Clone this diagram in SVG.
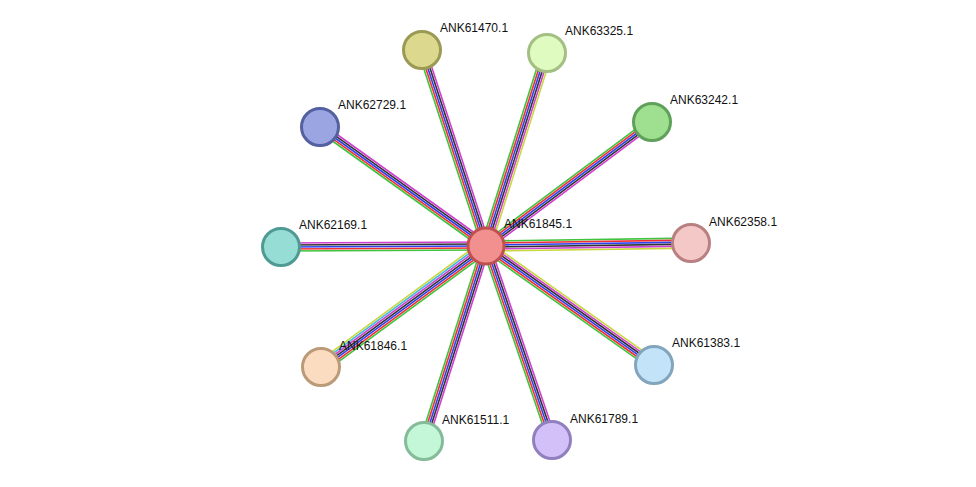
<svg xmlns="http://www.w3.org/2000/svg" width="976" height="487" viewBox="0 0 976 487">
<style>
text{font-family:"Liberation Sans",Arial,sans-serif;font-size:12px;fill:#111}
.n{stroke-width:3}
line{stroke-width:1.6}
.g{stroke:#3fc43f}.r{stroke:#f03030}.b{stroke:#3040f0}.k{stroke:#333}.m{stroke:#d040d0}.y{stroke:#c8d840}.c{stroke:#40b8e0}
</style>
<rect width="976" height="487" fill="#fff"/>
<g id="connectors">
<g transform="translate(486,246) rotate(-108.1)"><line class="g" x1="0" y1="-4" x2="206" y2="-4"/><line class="r" x1="0" y1="-2" x2="206" y2="-2"/><line class="b" x1="0" y1="0" x2="206" y2="0"/><line class="k" x1="0" y1="2" x2="206" y2="2"/><line class="m" x1="0" y1="4" x2="206" y2="4"/></g>
<g transform="translate(486,246) rotate(-72.5)"><line class="g" x1="0" y1="-5" x2="202" y2="-5"/><line class="r" x1="0" y1="-3" x2="202" y2="-3"/><line class="b" x1="0" y1="-1" x2="202" y2="-1"/><line class="k" x1="0" y1="1" x2="202" y2="1"/><line class="m" x1="0" y1="3" x2="202" y2="3"/><line class="y" x1="0" y1="5" x2="202" y2="5"/></g>
<g transform="translate(486,246) rotate(-36.8)"><line class="g" x1="0" y1="-4" x2="207" y2="-4"/><line class="r" x1="0" y1="-2" x2="207" y2="-2"/><line class="b" x1="0" y1="0" x2="207" y2="0"/><line class="k" x1="0" y1="2" x2="207" y2="2"/><line class="m" x1="0" y1="4" x2="207" y2="4"/></g>
<g transform="translate(486,246) rotate(-144.4)"><line class="g" x1="0" y1="-4" x2="204" y2="-4"/><line class="r" x1="0" y1="-2" x2="204" y2="-2"/><line class="b" x1="0" y1="0" x2="204" y2="0"/><line class="k" x1="0" y1="2" x2="204" y2="2"/><line class="m" x1="0" y1="4" x2="204" y2="4"/></g>
<g transform="translate(486,246) rotate(179.7)"><line class="g" x1="0" y1="-4" x2="205" y2="-4"/><line class="r" x1="0" y1="-2" x2="205" y2="-2"/><line class="b" x1="0" y1="0" x2="205" y2="0"/><line class="k" x1="0" y1="2" x2="205" y2="2"/><line class="m" x1="0" y1="4" x2="205" y2="4"/></g>
<g transform="translate(486,246) rotate(-0.8)"><line class="g" x1="0" y1="-5" x2="205" y2="-5"/><line class="r" x1="0" y1="-3" x2="205" y2="-3"/><line class="b" x1="0" y1="-1" x2="205" y2="-1"/><line class="k" x1="0" y1="1" x2="205" y2="1"/><line class="m" x1="0" y1="3" x2="205" y2="3"/><line class="y" x1="0" y1="5" x2="205" y2="5"/></g>
<g transform="translate(486,246) rotate(35.3)"><line class="g" x1="0" y1="5" x2="206" y2="5"/><line class="r" x1="0" y1="3" x2="206" y2="3"/><line class="b" x1="0" y1="1" x2="206" y2="1"/><line class="k" x1="0" y1="-1" x2="206" y2="-1"/><line class="m" x1="0" y1="-3" x2="206" y2="-3"/><line class="y" x1="0" y1="-5" x2="206" y2="-5"/></g>
<g transform="translate(486,246) rotate(143.7)"><line class="g" x1="0" y1="-6" x2="205" y2="-6"/><line class="r" x1="0" y1="-4" x2="205" y2="-4"/><line class="b" x1="0" y1="-2" x2="205" y2="-2"/><line class="k" x1="0" y1="0" x2="205" y2="0"/><line class="m" x1="0" y1="2" x2="205" y2="2"/><line class="c" x1="0" y1="4" x2="205" y2="4"/><line class="y" x1="0" y1="6" x2="205" y2="6"/></g>
<g transform="translate(486,246) rotate(107.6)"><line class="g" x1="0" y1="4" x2="205" y2="4"/><line class="r" x1="0" y1="2" x2="205" y2="2"/><line class="b" x1="0" y1="0" x2="205" y2="0"/><line class="k" x1="0" y1="-2" x2="205" y2="-2"/><line class="m" x1="0" y1="-4" x2="205" y2="-4"/></g>
<g transform="translate(486,246) rotate(71.2)"><line class="g" x1="0" y1="4" x2="205" y2="4"/><line class="r" x1="0" y1="2" x2="205" y2="2"/><line class="b" x1="0" y1="0" x2="205" y2="0"/><line class="k" x1="0" y1="-2" x2="205" y2="-2"/><line class="m" x1="0" y1="-4" x2="205" y2="-4"/></g>
</g>
<g id="ANK61470"><circle class="n" cx="422" cy="50" r="18.5" fill="#dcd98f" stroke="#9b9a55"/><text x="440" y="32">ANK61470.1</text></g>
<g id="ANK63325"><circle class="n" cx="547" cy="53" r="18.5" fill="#e0fbc0" stroke="#a3bf82"/><text x="565" y="35">ANK63325.1</text></g>
<g id="ANK63242"><circle class="n" cx="652" cy="122" r="18.5" fill="#9fe090" stroke="#5fa05a"/><text x="670" y="104">ANK63242.1</text></g>
<g id="ANK62729"><circle class="n" cx="320" cy="127" r="18.5" fill="#9aa5e2" stroke="#5560a0"/><text x="338" y="109">ANK62729.1</text></g>
<g id="ANK62169"><circle class="n" cx="281" cy="247" r="18.5" fill="#96ddd5" stroke="#4f9a93"/><text x="299" y="229">ANK62169.1</text></g>
<g id="ANK62358"><circle class="n" cx="691" cy="243" r="18.5" fill="#f5c8c8" stroke="#b88080"/><text x="709" y="226">ANK62358.1</text></g>
<g id="ANK61383"><circle class="n" cx="654" cy="365" r="18.5" fill="#c2e3f8" stroke="#82a5bd"/><text x="672" y="347">ANK61383.1</text></g>
<g id="ANK61846"><circle class="n" cx="321" cy="367" r="18.5" fill="#fcdcc0" stroke="#bb9a78"/><text x="339" y="350">ANK61846.1</text></g>
<g id="ANK61511"><circle class="n" cx="424" cy="441" r="18.5" fill="#c4f7d7" stroke="#85bb98"/><text x="442" y="424">ANK61511.1</text></g>
<g id="ANK61789"><circle class="n" cx="552" cy="440" r="18.5" fill="#d4c0f8" stroke="#9080c0"/><text x="570" y="423">ANK61789.1</text></g>
<g id="ANK61845"><circle class="n" cx="486" cy="246" r="18" fill="#f29090" stroke="#c05050"/><text x="504" y="228">ANK61845.1</text></g>
</svg>
